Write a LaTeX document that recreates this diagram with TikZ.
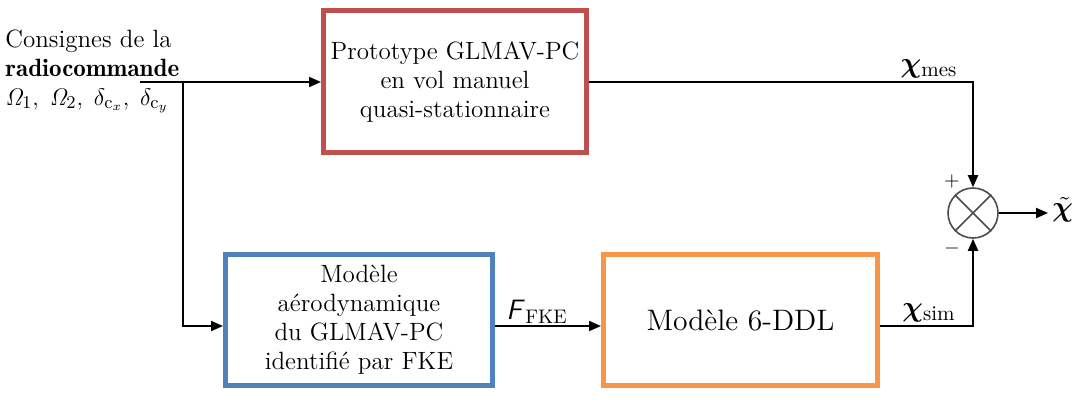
\documentclass[tikz,border=0pt]{standalone}
\usepackage{amsmath,bm}
\usetikzlibrary{arrows.meta}
\definecolor{redbox}{HTML}{C0504D}
\definecolor{bluebox}{HTML}{4F81BD}
\definecolor{orangebox}{HTML}{F79646}
\begin{document}
\begin{tikzpicture}[x=0.5pt,y=-0.5pt,
  blockbox/.style={draw, line width=2.5pt, fill=white, align=center, inner sep=2pt, font=\fontsize{12.5}{14.5}\selectfont},
  wire/.style={line width=1pt},
  arr/.style={wire, -{Triangle[length=6pt,width=5pt]}},
  lbl/.style={font=\fontsize{12.5}{14.5}\selectfont, inner sep=1pt}]
\useasboundingbox (0,0) rectangle (1074,402);
\node[blockbox, draw=redbox, minimum width=131.5pt, minimum height=71pt] (proto) at (455,81.5)
  {Prototype GLMAV-PC\\ en vol manuel\\ quasi-stationnaire};
\node[blockbox, draw=bluebox, minimum width=133.5pt, minimum height=65.5pt] (aero) at (359,320)
  {Modèle\\ aérodynamique\\ du GLMAV-PC\\ identifié par FKE};
\node[blockbox, draw=orangebox, minimum width=137pt, minimum height=65.5pt, font=\fontsize{14.8}{17}\selectfont] (ddl) at (740.5,320)
  {Modèle 6-DDL};
\node[draw=black!70, line width=0.8pt, circle, minimum size=25pt, inner sep=0pt] (sum) at (973,213) {};
\draw[black!70, line width=0.8pt] (sum.north west) -- (sum.south east) (sum.north east) -- (sum.south west);
\node[lbl, anchor=north west, align=left] (in) at (3,27)
  {Consignes de la\\ {\fontseries{b}\selectfont radiocommande}\\ $\mathit{\Omega}_1,\;\mathit{\Omega}_2,\;\delta_{\mathrm{c}_x},\;\delta_{\mathrm{c}_y}$};
\coordinate (start) at (140,82);
\coordinate (split) at (183,82);
\coordinate (out) at (1048,213);
\draw[arr] (start) -- (proto.west |- start);
\draw[arr] (split) |- ([yshift=-3pt]aero.west);
\draw[arr] ([yshift=-3pt]aero.east) -- ([yshift=-3pt]ddl.west);
\draw[arr] (proto.east |- start) -| (sum.north);
\draw[arr] ([yshift=-3pt]ddl.east) -| (sum.south);
\draw[arr] (sum.east) -- (out);
\node[lbl, anchor=west, font=\fontsize{15}{17}\selectfont, inner sep=0pt] (chit) at (1052,210) {$\tilde{\bm{\chi}}$};
\node[lbl, font=\fontsize{15}{17}\selectfont] (chimes) at (929,69) {$\bm{\chi}_{\text{mes}}$};
\node[lbl, font=\fontsize{15}{17}\selectfont] (chisim) at (929,313) {$\bm{\chi}_{\text{sim}}$};
\node[lbl, font=\fontsize{14}{16}\selectfont] (fke) at (537,312) {{\sffamily\itshape F}$_{\,\text{FKE}}$};
\node[lbl, font=\fontsize{10}{11}\selectfont] (plus) at (952,181) {$+$};
\node[lbl, font=\fontsize{10}{11}\selectfont] (minus) at (952,248) {$-$};
\end{tikzpicture}
\end{document}
